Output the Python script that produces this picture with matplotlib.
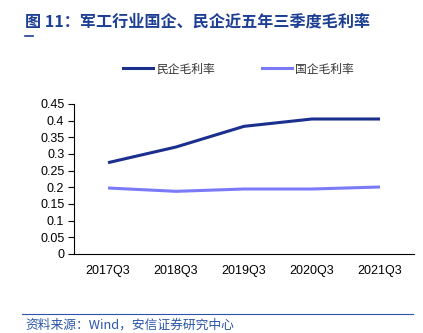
import matplotlib.pyplot as plt
from matplotlib.lines import Line2D

# ------ dados

quarters = ["2017Q3", "2018Q3", "2019Q3", "2020Q3", "2021Q3"]
private_margin = [0.274, 0.321, 0.383, 0.405, 0.405]
state_margin = [0.198, 0.188, 0.195, 0.195, 0.201]
yticks = [0, 0.05, 0.1, 0.15, 0.2, 0.25, 0.3, 0.35, 0.4, 0.45]
ytick_labels = ["0", "0.05", "0.1", "0.15", "0.2", "0.25", "0.3", "0.35", "0.4", "0.45"]

# ------ figura

plt.rcParams['font.family'] = ['Liberation Sans', 'Noto Sans CJK SC', 'DejaVu Sans']
cjk = ['Noto Sans CJK SC', 'DejaVu Sans']

W, H = 423, 333
fig = plt.figure(figsize=(W / 100, H / 100), dpi=100)
ax = fig.add_axes([74 / W, (H - 254) / H, (414 - 74) / W, 150 / H])

x = range(len(quarters))
ax.plot(x, private_margin, color='#1B2F8E', lw=2.2, solid_capstyle='butt')
ax.plot(x, state_margin, color='#7B7BFA', lw=2.2, solid_capstyle='butt')

ax.set_xlim(-0.5, len(quarters) - 0.5)
ax.set_ylim(0, 0.45)
ax.set_yticks(yticks)
ax.set_yticklabels(ytick_labels)
ax.set_xticks(list(x))
ax.set_xticklabels(quarters)
ax.tick_params(axis='y', length=4, width=0.8, labelsize=9, pad=3)
ax.tick_params(axis='x', length=0, labelsize=9, pad=8)
for s in ['top', 'right']:
    ax.spines[s].set_visible(False)
for s in ['left', 'bottom']:
    ax.spines[s].set_linewidth(0.8)
    ax.spines[s].set_color('black')

# legenda
handles = [Line2D([], [], color='#1B2F8E', lw=2.2),
           Line2D([], [], color='#7B7BFA', lw=2.2)]
fig.legend(handles, ['民企毛利率', '国企毛利率'], loc='center left',
           bbox_to_anchor=(112 / W, 1 - 69 / H), ncol=2, frameon=False,
           handlelength=2.6, handletextpad=0.2, columnspacing=4.0,
           prop={'family': cjk, 'size': 8.5}, labelcolor='#333333')

# título
fig.text(25 / W, 1 - 22 / H, '图 11：军工行业国企、民企近五年三季度毛利率',
         family=cjk, fontsize=11.6, fontweight='bold', color='#1C3F94',
         va='center', ha='left')
fig.add_artist(Line2D([25 / W, 33 / W], [1 - 36 / H, 1 - 36 / H],
                      color='#1C3F94', lw=1.2))

# rodapé
fig.add_artist(Line2D([22 / W, 413 / W], [1 - 314 / H, 1 - 314 / H],
                      color='#2B55A8', lw=0.8))
fig.text(25 / W, 1 - 325 / H, '资料来源：Wind，安信证券研究中心',
         family=cjk, fontsize=9.2, style='italic', color='#2B55A8',
         va='center', ha='left')

fig.savefig('out.png', dpi=100)
